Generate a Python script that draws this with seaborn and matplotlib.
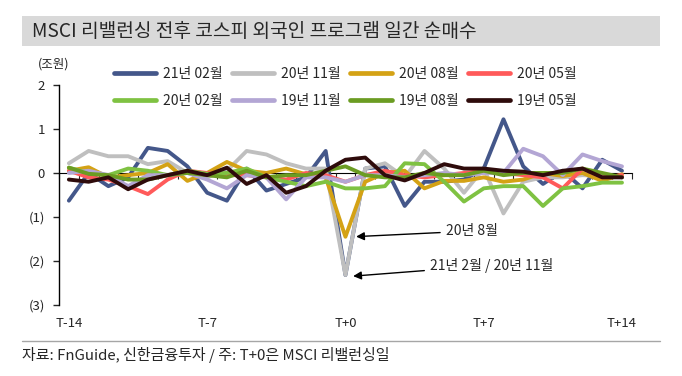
import numpy as np
import pandas as pd
import matplotlib
matplotlib.use('Agg')
import matplotlib.pyplot as plt
import matplotlib.transforms as mtransforms
import seaborn as sns

sns.set_style('white')
plt.rcParams['font.family'] = ['Noto Sans CJK KR', 'DejaVu Sans']

# T-14 ... T+14
days = list(range(-14, 15))
tick_labels = ['T-14', 'T-7', 'T+0', 'T+7', 'T+14']

s_2102 = [-0.63, 0.0, -0.3, -0.1, 0.57, 0.5, 0.15, -0.45, -0.63, 0.1, -0.4, -0.25, -0.1, 0.5, -2.32,
          0.1, 0.15, -0.75, -0.2, -0.2, -0.15, 0.1, 1.22, 0.15, -0.25, 0.05, -0.35, 0.3, 0.05]
s_2011 = [0.22, 0.5, 0.38, 0.38, 0.2, 0.27, 0.0, -0.1, 0.05, 0.5, 0.42, 0.22, 0.1, 0.1, -2.32,
          0.1, 0.22, -0.1, 0.5, 0.1, -0.45, 0.1, -0.92, -0.2, -0.1, -0.1, -0.05, -0.07, -0.1]
s_2008 = [0.05, 0.13, -0.1, -0.05, 0.0, 0.2, -0.18, 0.0, 0.25, 0.05, 0.0, 0.1, -0.03, -0.1, -1.45,
          -0.2, 0.0, 0.05, -0.35, -0.18, -0.18, -0.1, -0.2, -0.15, 0.0, -0.07, 0.0, -0.18, -0.03]
s_2005 = [0.05, -0.1, -0.15, -0.3, -0.48, -0.15, 0.05, 0.0, -0.05, -0.05, -0.1, -0.15, 0.0, -0.05, -0.2,
          -0.05, 0.05, -0.05, -0.1, -0.05, 0.0, 0.05, 0.0, -0.05, -0.1, -0.35, 0.1, -0.1, -0.05]
s_2002 = [0.12, 0.0, -0.05, 0.1, 0.05, -0.05, 0.05, -0.02, 0.0, 0.1, -0.1, -0.2, -0.3, -0.2, -0.35,
          -0.35, -0.3, 0.22, 0.2, -0.2, -0.65, -0.35, -0.3, -0.3, -0.75, -0.35, -0.3, -0.22, -0.22]
s_1911 = [0.0, 0.05, -0.05, -0.3, -0.05, -0.05, 0.0, -0.15, -0.35, -0.05, -0.1, -0.6, -0.1, -0.1, -0.2,
          -0.05, -0.05, -0.1, -0.05, 0.0, -0.05, 0.0, 0.0, 0.55, 0.38, -0.05, 0.42, 0.27, 0.15]
s_1908 = [0.12, -0.02, -0.05, -0.15, -0.15, -0.05, 0.0, -0.05, -0.1, 0.05, -0.1, -0.05, -0.05, 0.05, 0.15,
          -0.05, -0.1, -0.1, 0.0, -0.05, -0.05, 0.05, -0.05, 0.0, 0.0, 0.0, 0.1, 0.0, -0.1]
s_1905 = [-0.15, -0.2, -0.1, -0.37, -0.15, -0.05, 0.05, -0.05, 0.12, -0.25, -0.05, -0.45, -0.3, 0.05, 0.3,
          0.35, -0.05, -0.17, 0.0, 0.2, 0.1, 0.1, 0.05, 0.03, -0.05, 0.05, 0.1, -0.1, -0.1]

names = ['21년 02월', '20년 11월', '20년 08월', '20년 05월',
         '20년 02월', '19년 11월', '19년 08월', '19년 05월']
series = [s_2102, s_2011, s_2008, s_2005, s_2002, s_1911, s_1908, s_1905]
colors = ['#44578a', '#bfbfbf', '#d4a215', '#ff5a5a',
          '#7fc242', '#b3a6d4', '#6b9c22', '#2e0b0b']

rows = []
for name, vals in zip(names, series):
    for d, v in zip(days, vals):
        rows.append({'day': d + 14, 'val': v, 'series': name})
df = pd.DataFrame(rows)

fig = plt.figure(figsize=(6.82, 3.76), dpi=100)
ax = fig.add_axes([0.0865, 0.189, 0.84, 0.585])

sns.lineplot(data=df, x='day', y='val', hue='series', hue_order=names,
             palette=colors, linewidth=2.8, sort=False, ax=ax)

ax.set_xlim(-0.5, 28.5)
ax.set_ylim(-3, 2)
ax.set_xlabel('')
ax.set_ylabel('')
for s in ['top', 'right']:
    ax.spines[s].set_visible(False)
ax.spines['left'].set_linewidth(1.0)
ax.spines['left'].set_color('black')
ax.spines['bottom'].set_position(('data', 0))
ax.spines['bottom'].set_linewidth(0.8)
ax.spines['bottom'].set_color('black')
ax.spines['bottom'].set_zorder(0.5)

ax.set_yticks([2, 1, 0, -1, -2, -3])
ax.set_yticklabels(['2', '1', '0', '(1)', '(2)', '(3)'], fontsize=9.5)
ax.tick_params(axis='y', left=True, direction='out', length=4, width=1, pad=6)
ax.set_xticks(np.arange(-0.5, 29, 1))
ax.set_xticklabels([])
ax.tick_params(axis='x', bottom=True, direction='out', length=4, width=0.8)

trans = mtransforms.blended_transform_factory(ax.transData, ax.transAxes)
for pos, lab in zip([0, 7, 14, 21, 28], tick_labels):
    ax.text(pos, -0.055, lab, transform=trans, ha='center', va='top', fontsize=9.5)

ax.text(-0.01, 1.065, '(조원)', transform=ax.transAxes, ha='center', va='bottom', fontsize=9)

handles, labels = ax.get_legend_handles_labels()
for h in handles:
    h.set_linewidth(3.4)
order = [0, 4, 1, 5, 2, 6, 3, 7]
ax.legend([handles[i] for i in order], [labels[i] for i in order], ncol=4,
          loc='upper center', bbox_to_anchor=(0.5, 1.14),
          frameon=False, fontsize=10, handlelength=3.0, columnspacing=0.7,
          handletextpad=0.5, labelspacing=0.95)

ax.annotate('20년 8월', xy=(14.4, -1.45), xytext=(19.1, -1.32),
            fontsize=10, va='center', ha='left',
            arrowprops=dict(arrowstyle='-|>', color='black', lw=1.0, mutation_scale=12))
ax.annotate('21년 2월 / 20년 11월', xy=(14.25, -2.35), xytext=(18.3, -2.1),
            fontsize=10, va='center', ha='left',
            arrowprops=dict(arrowstyle='-|>', color='black', lw=1.0, mutation_scale=12))

# title band
fig.patches.append(plt.Rectangle((0.032, 0.878), 0.936, 0.08, transform=fig.transFigure,
                                 facecolor='#d9d9d9', edgecolor='none', zorder=0))
fig.text(0.047, 0.917, 'MSCI 리밸런싱 전후 코스피 외국인 프로그램 일간 순매수',
         fontsize=13.8, va='center', ha='left')

fig.add_artist(plt.Line2D([0.032, 0.968], [0.093, 0.093], transform=fig.transFigure,
                          color='#a6a6a6', lw=1.0))
fig.text(0.032, 0.078, '자료: FnGuide, 신한금융투자 / 주: T+0은 MSCI 리밸런싱일',
         fontsize=10.8, va='top', ha='left')

fig.savefig('out.png', dpi=100)
